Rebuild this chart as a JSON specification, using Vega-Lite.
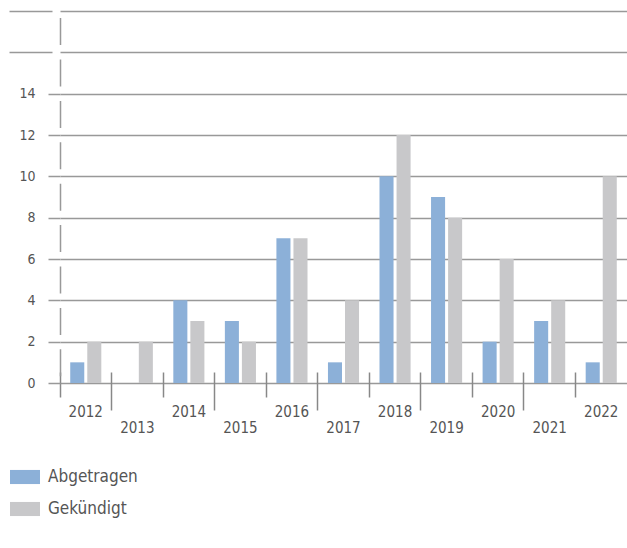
{
  "$schema": "https://vega.github.io/schema/vega-lite/v6.json",
  "width": 567,
  "height": 372,
  "autosize": "none",
  "padding": {"left": 60, "top": 11, "right": 0, "bottom": 165},
  "background": "white",
  "config": {
    "font": "DejaVu Sans Condensed",
    "view": {"stroke": null}
  },
  "data": {
    "values": [
      {"year": 2012, "series": "Abgetragen", "value": 1},
      {"year": 2012, "series": "Gekündigt", "value": 2},
      {"year": 2013, "series": "Abgetragen", "value": 0},
      {"year": 2013, "series": "Gekündigt", "value": 2},
      {"year": 2014, "series": "Abgetragen", "value": 4},
      {"year": 2014, "series": "Gekündigt", "value": 3},
      {"year": 2015, "series": "Abgetragen", "value": 3},
      {"year": 2015, "series": "Gekündigt", "value": 2},
      {"year": 2016, "series": "Abgetragen", "value": 7},
      {"year": 2016, "series": "Gekündigt", "value": 7},
      {"year": 2017, "series": "Abgetragen", "value": 1},
      {"year": 2017, "series": "Gekündigt", "value": 4},
      {"year": 2018, "series": "Abgetragen", "value": 10},
      {"year": 2018, "series": "Gekündigt", "value": 12},
      {"year": 2019, "series": "Abgetragen", "value": 9},
      {"year": 2019, "series": "Gekündigt", "value": 8},
      {"year": 2020, "series": "Abgetragen", "value": 2},
      {"year": 2020, "series": "Gekündigt", "value": 6},
      {"year": 2021, "series": "Abgetragen", "value": 3},
      {"year": 2021, "series": "Gekündigt", "value": 4},
      {"year": 2022, "series": "Abgetragen", "value": 1},
      {"year": 2022, "series": "Gekündigt", "value": 10}
    ]
  },
  "layer": [
    {
      "mark": {"type": "bar"},
      "encoding": {
        "x": {
          "field": "year",
          "type": "ordinal",
          "scale": {"paddingInner": 0, "paddingOuter": 0},
          "axis": {
            "orient": "bottom",
            "title": null,
            "domain": false,
            "ticks": false,
            "tickSize": 0,
            "grid": false,
            "labelAngle": 0,
            "labelBaseline": "top",
            "labelFontSize": 15,
            "labelColor": "#555555",
            "labelPadding": {"condition": {"test": "datum.value % 2 == 1", "value": 37}, "value": 21}
          }
        },
        "xOffset": {
          "field": "series",
          "type": "nominal",
          "sort": ["Abgetragen", "Gekündigt"],
          "scale": {"paddingInner": 0.176, "paddingOuter": 0.6}
        },
        "y": {
          "field": "value",
          "type": "quantitative",
          "scale": {"domain": [0, 18], "nice": false},
          "axis": {
            "title": null,
            "values": [0, 2, 4, 6, 8, 10, 12, 14, 16, 18],
            "labelExpr": "datum.value <= 14 ? datum.label : ''",
            "domainColor": "#999999",
            "domainWidth": 1.5,
            "domainDash": [27, 14.4],
            "domainDashOffset": 34.2,
            "tickColor": "#999999",
            "tickWidth": 1.5,
            "tickSize": {"condition": {"test": "datum.value > 14", "value": 51}, "value": 12},
            "tickDash": {"condition": {"test": "datum.value > 14", "value": [0, 8, 43, 100]}, "value": [1, 0]},
            "grid": true,
            "gridColor": "#999999",
            "gridWidth": 1.5,
            "labelPadding": 13,
            "labelFontSize": 14,
            "labelColor": "#555555"
          }
        },
        "color": {
          "field": "series",
          "type": "nominal",
          "scale": {"domain": ["Abgetragen", "Gekündigt"], "range": ["#8cb0d8", "#c8c8ca"]},
          "legend": {
            "title": null,
            "orient": "none",
            "legendX": -50,
            "legendY": 451,
            "padding": 0,
            "symbolType": "M-1,-0.47L1,-0.47L1,0.47L-1,0.47Z",
            "symbolSize": 900,
            "symbolStrokeWidth": 0,
            "labelFontSize": 17,
            "labelColor": "#555555",
            "labelOffset": 8,
            "rowPadding": 9
          }
        }
      }
    },
    {
      "mark": {"type": "bar", "opacity": 0},
      "encoding": {
        "x": {
          "field": "year",
          "type": "ordinal",
          "axis": {
            "orient": "bottom",
            "title": null,
            "bandPosition": 0,
            "labels": false,
            "domain": false,
            "grid": false,
            "offset": -11,
            "tickColor": "#888888",
            "tickWidth": 1.5,
            "tickSize": {"condition": {"test": "datum.value % 2 == 1", "value": 38}, "value": 25}
          }
        },
        "y": {"field": "value", "type": "quantitative"}
      }
    }
  ],
  "resolve": {"axis": {"x": "independent"}}
}
